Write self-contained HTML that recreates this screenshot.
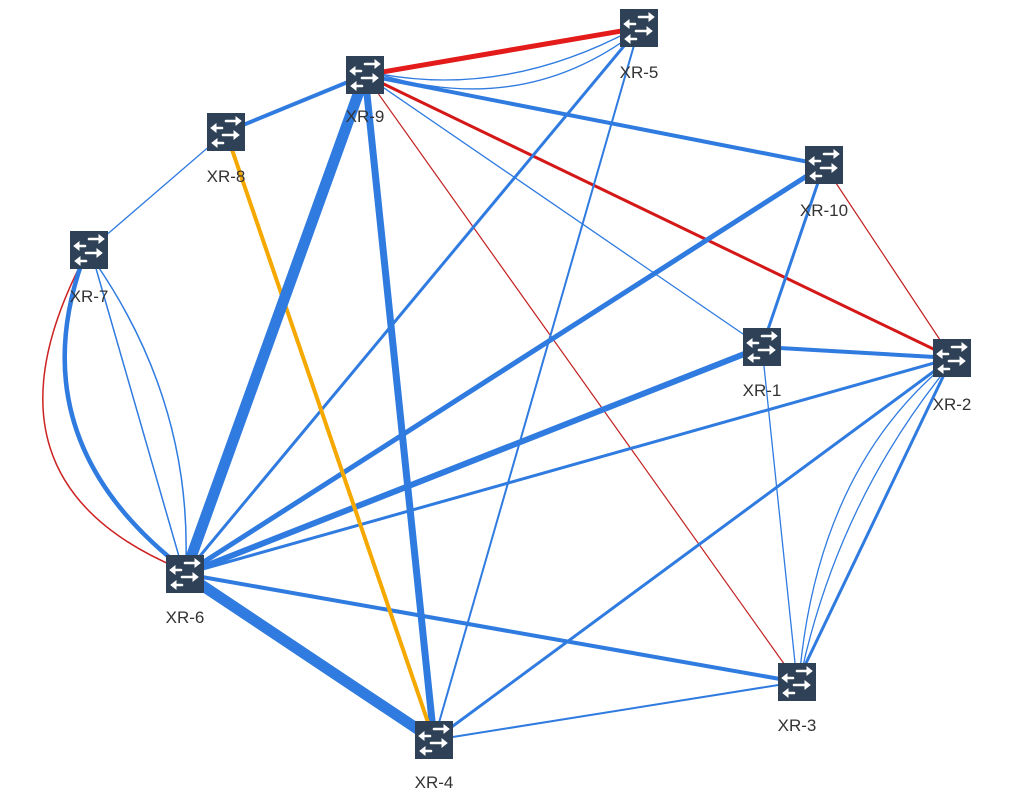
<!DOCTYPE html>
<html><head><meta charset="utf-8"><style>
html,body{margin:0;padding:0;background:#fff;}
svg{display:block;}
text{font-family:"Liberation Sans",sans-serif;font-size:17px;fill:#333;text-anchor:middle;}
</style></head><body>
<svg width="1016" height="803" viewBox="0 0 1016 803">
<defs>
<g id="sw">
<rect x="-19" y="-19" width="38" height="38" fill="#2e4156"/>
<g stroke="#fff" stroke-width="2.6" fill="#fff" stroke-linecap="round">
<line x1="0" y1="-11" x2="11" y2="-11"/><path d="M10,-15 L15,-11 L10,-7Z" stroke-width="1"/>
<line x1="-4" y1="-4" x2="-13" y2="-4"/><path d="M-10,-8 L-15,-4 L-10,0Z" stroke-width="1"/>
<line x1="-3" y1="3" x2="9" y2="3"/><path d="M8,-1 L13,3 L8,7Z" stroke-width="1"/>
<line x1="-3" y1="11" x2="-12" y2="11"/><path d="M-9,7 L-14,11 L-9,15Z" stroke-width="1"/>
</g>
</g>
</defs>
<g fill="none" stroke-linecap="round">
<!-- curves 7-6 -->
<path d="M82,262 Q-30,480 178,568" stroke="#cc2222" stroke-width="1.5"/>
<path d="M82,262 Q20,440 180,566" stroke="#2f7be0" stroke-width="4.5"/>
<path d="M95,265 L180,560" stroke="#2f7be0" stroke-width="1.5"/>
<path d="M95,262 Q190,400 186,560" stroke="#2f7be0" stroke-width="1.5"/>
<!-- curves 9-5 -->
<path d="M370,72 Q500,100 632,30" stroke="#2f7be0" stroke-width="1.3"/>
<path d="M372,72 Q520,120 636,32" stroke="#2f7be0" stroke-width="1.3"/>
<!-- curves 2-3 -->
<path d="M945,365 Q820,470 800,670" stroke="#2f7be0" stroke-width="1.3"/>
<path d="M948,367 Q840,500 802,670" stroke="#2f7be0" stroke-width="1.3"/>
<line x1="365" y1="75" x2="639" y2="28" stroke="#e41b1b" stroke-width="5"/>
<line x1="365" y1="75" x2="226" y2="132" stroke="#2f7be0" stroke-width="4"/>
<line x1="365" y1="75" x2="824" y2="165" stroke="#2f7be0" stroke-width="4"/>
<line x1="365" y1="75" x2="952" y2="358" stroke="#d41818" stroke-width="3"/>
<line x1="365" y1="75" x2="762" y2="347" stroke="#2f7be0" stroke-width="1.3"/>
<line x1="365" y1="75" x2="797" y2="682" stroke="#c42020" stroke-width="1.2"/>
<line x1="226" y1="132" x2="89" y2="250" stroke="#2f7be0" stroke-width="1.3"/>
<line x1="639" y1="28" x2="185" y2="574" stroke="#2f7be0" stroke-width="3"/>
<line x1="639" y1="28" x2="434" y2="740" stroke="#2f7be0" stroke-width="2"/>
<line x1="824" y1="165" x2="185" y2="574" stroke="#2f7be0" stroke-width="5"/>
<line x1="824" y1="165" x2="762" y2="347" stroke="#2f7be0" stroke-width="3"/>
<line x1="824" y1="165" x2="952" y2="358" stroke="#c42020" stroke-width="1.2"/>
<line x1="762" y1="347" x2="952" y2="358" stroke="#2f7be0" stroke-width="4"/>
<line x1="762" y1="347" x2="185" y2="574" stroke="#2f7be0" stroke-width="6"/>
<line x1="762" y1="347" x2="797" y2="682" stroke="#2f7be0" stroke-width="1.3"/>
<line x1="952" y1="358" x2="185" y2="574" stroke="#2f7be0" stroke-width="3"/>
<line x1="952" y1="358" x2="434" y2="740" stroke="#2f7be0" stroke-width="3"/>
<line x1="952" y1="358" x2="797" y2="682" stroke="#2f7be0" stroke-width="3"/>
<line x1="185" y1="574" x2="797" y2="682" stroke="#2f7be0" stroke-width="4"/>
<line x1="434" y1="740" x2="797" y2="682" stroke="#2f7be0" stroke-width="2"/>
<line x1="185" y1="574" x2="434" y2="740" stroke="#2f7be0" stroke-width="11"/>
<line x1="365" y1="75" x2="434" y2="740" stroke="#2f7be0" stroke-width="7"/>
<line x1="226" y1="132" x2="434" y2="740" stroke="#f5a800" stroke-width="4"/>
<line x1="365" y1="75" x2="185" y2="574" stroke="#2f7be0" stroke-width="11"/>
</g>
<use href="#sw" x="639" y="28"/><text x="639" y="78">XR-5</text>
<use href="#sw" x="365" y="75"/><text x="365" y="122">XR-9</text>
<use href="#sw" x="226" y="132"/><text x="226" y="182">XR-8</text>
<use href="#sw" x="824" y="165"/><text x="824" y="216">XR-10</text>
<use href="#sw" x="89" y="250"/><text x="89" y="302">XR-7</text>
<use href="#sw" x="762" y="347"/><text x="762" y="396">XR-1</text>
<use href="#sw" x="952" y="358"/><text x="952" y="410">XR-2</text>
<use href="#sw" x="185" y="574"/><text x="185" y="623">XR-6</text>
<use href="#sw" x="797" y="682"/><text x="797" y="731">XR-3</text>
<use href="#sw" x="434" y="740"/><text x="434" y="788">XR-4</text>
</svg>
</body></html>
